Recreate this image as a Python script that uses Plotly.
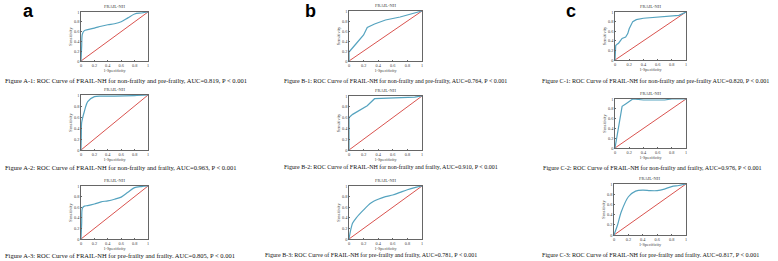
import plotly.graph_objects as go

W, H = 778, 261

# ---- data ----
a1_x = [0, 0.01, 0.02, 0.05, 0.1, 0.2, 0.3, 0.4, 0.5, 0.6, 0.7, 0.8, 0.9, 1]
a1_y = [0, 0.3, 0.55, 0.62, 0.64, 0.67, 0.71, 0.74, 0.76, 0.8, 0.88, 0.96, 0.98, 1]
a2_x = [0, 0.005, 0.01, 0.05, 0.1, 0.2, 0.3, 0.5, 0.8, 1]
a2_y = [0, 0.3, 0.5, 0.7, 0.88, 0.97, 0.98, 0.98, 0.99, 1]
a3_x = [0, 0.01, 0.02, 0.05, 0.1, 0.2, 0.3, 0.4, 0.5, 0.6, 0.7, 0.8, 0.9, 1]
a3_y = [0, 0.3, 0.58, 0.62, 0.63, 0.66, 0.7, 0.72, 0.75, 0.79, 0.88, 0.97, 0.99, 1]
b1_x = [0, 0, 0.1, 0.2, 0.25, 0.35, 0.5, 0.7, 1]
b1_y = [0, 0.18, 0.35, 0.52, 0.67, 0.74, 0.82, 0.88, 1]
b2_x = [0, 0, 0.05, 0.25, 0.35, 0.6, 0.9, 1]
b2_y = [0, 0.6, 0.66, 0.82, 0.95, 0.96, 0.98, 1]
b3_x = [0, 0.02, 0.05, 0.1, 0.2, 0.3, 0.4, 0.5, 0.6, 0.7, 0.8, 0.9, 1]
b3_y = [0, 0.15, 0.3, 0.4, 0.55, 0.68, 0.75, 0.8, 0.83, 0.88, 0.93, 0.97, 1]
c1_x = [0, 0.01, 0.03, 0.05, 0.1, 0.15, 0.18, 0.2, 0.25, 0.3, 0.4, 0.6, 0.8, 0.9, 1]
c1_y = [0, 0.3, 0.33, 0.35, 0.45, 0.48, 0.55, 0.65, 0.8, 0.84, 0.87, 0.89, 0.92, 0.93, 1]
c2_x = [0, 0.1, 0.15, 0.25, 0.4, 0.5, 0.7, 0.8, 1]
c2_y = [0, 0.85, 0.9, 1.0, 0.98, 0.98, 0.98, 1.0, 1]
c3_x = [0, 0.05, 0.1, 0.2, 0.3, 0.4, 0.5, 0.6, 0.7, 0.8, 0.9, 1]
c3_y = [0, 0.2, 0.45, 0.75, 0.86, 0.88, 0.87, 0.87, 0.9, 0.95, 0.97, 1]

diag = [0, 1]
ticks = [0, 0.2, 0.4, 0.6, 0.8, 1]
tick_labels = ["0", "0.2", "0.4", "0.6", "0.8", "1"]

captions = [
    "Figure A-1: ROC Curve of FRAIL-NH for non-frailty and pre-frailty, AUC=0.819, P < 0.001",
    "Figure B-1: ROC Curve of FRAIL-NH for non-frailty and pre-frailty, AUC=0.764, P < 0.001",
    "Figure C-1: ROC Curve of FRAIL-NH for non-frailty and pre-frailty AUC=0.820, P < 0.001",
    "Figure A-2: ROC Curve of FRAIL-NH for non-frailty and frailty, AUC=0.963, P < 0.001",
    "Figure B-2: ROC Curve of FRAIL-NH for non-frailty and frailty, AUC=0.910, P < 0.001",
    "Figure C-2: ROC Curve of FRAIL-NH for non-frailty and frailty, AUC=0.976, P < 0.001",
    "Figure A-3: ROC Curve of FRAIL-NH for pre-frailty and frailty. AUC=0.805, P < 0.001",
    "Figure B-3: ROC Curve of FRAIL-NH for pre-frailty and frailty, AUC=0.781, P < 0.001",
    "Figure C-3: ROC Curve of FRAIL-NH for pre-frailty and frailty. AUC=0.817, P < 0.001",
]
panel_labels = ["a", "b", "c"]
plot_title = "FRAIL-NH"

curves = [
    (a1_x, a1_y, "spline"), (b1_x, b1_y, "linear"), (c1_x, c1_y, "linear"),
    (a2_x, a2_y, "spline"), (b2_x, b2_y, "linear"), (c2_x, c2_y, "linear"),
    (a3_x, a3_y, "spline"), (b3_x, b3_y, "spline"), (c3_x, c3_y, "spline"),
]

# ---- layout geometry (pixels) ----
boxes = [
    (81, 148, 12, 61), (349, 422, 11, 61), (615, 686, 12, 60),
    (81, 148, 95, 150), (349, 422, 96, 150), (615, 686, 99, 148),
    (81, 148, 186, 239), (349, 422, 186, 239), (614, 686, 184, 235),
]
cap_pos = [
    (3, 81), (282, 81), (540, 81),
    (3, 167), (282, 167), (541, 168),
    (3, 255), (263, 255), (540, 255),
]
cap_size = [6.5, 6.0, 6.15, 6.5, 6.0, 6.15, 6.5, 6.0, 6.15]
label_pos = [28, 310, 571]

BLUE = "#55a3bf"
RED = "#d9534f"
fig = go.Figure()
layout = {}
annotations = []
for i, ((cx, cy, shape), (x0, x1, y0, y1)) in enumerate(zip(curves, boxes)):
    n = "" if i == 0 else str(i + 1)
    xa, ya = "x" + n, "y" + n
    fig.add_trace(go.Scatter(x=diag, y=diag, mode="lines", line=dict(color=RED, width=1),
                             xaxis=xa, yaxis=ya, showlegend=False, hoverinfo="skip"))
    fig.add_trace(go.Scatter(x=cx, y=cy, mode="lines",
                             line=dict(color=BLUE, width=1.2, shape=shape, smoothing=0.8),
                             xaxis=xa, yaxis=ya, showlegend=False))
    common = dict(range=[0, 1], tickvals=ticks, ticktext=tick_labels, showgrid=False,
                  zeroline=False, showline=True, linecolor="#666", linewidth=0.6, mirror=True,
                  ticks="inside", ticklen=1.5, tickcolor="#666", tickwidth=0.5,
                  tickfont=dict(size=4.3, color="#444", family="Liberation Serif"),
                  fixedrange=True, automargin=False)
    layout["xaxis" + n] = dict(common, domain=[x0 / W, x1 / W], anchor=ya,
                               title=dict(text="1-Specificity", standoff=1,
                                          font=dict(size=4.3, color="#444", family="Liberation Serif")))
    layout["yaxis" + n] = dict(common, domain=[1 - y1 / H, 1 - y0 / H], anchor=xa,
                               title=dict(text="Sensitivity", standoff=1,
                                          font=dict(size=4.3, color="#444", family="Liberation Serif")))
    annotations.append(dict(text=plot_title, x=(x0 + x1) / 2 / W, y=1 - (y0 - 1) / H,
                            xref="paper", yref="paper", xanchor="center", yanchor="bottom",
                            showarrow=False, font=dict(size=4.5, color="#444", family="Liberation Serif")))
    px, py = cap_pos[i]
    annotations.append(dict(text=captions[i], x=px / W, y=1 - py / H, xref="paper", yref="paper",
                            xanchor="left", yanchor="middle", showarrow=False,
                            font=dict(size=cap_size[i], color="#111", family="Liberation Serif")))
for lab, px in zip(panel_labels, label_pos):
    annotations.append(dict(text="<b>" + lab + "</b>", x=px / W, y=1, xref="paper", yref="paper",
                            xanchor="center", yanchor="top", showarrow=False, borderpad=0,
                            font=dict(size=18, color="#000", family="Liberation Sans")))

fig.update_layout(width=W, height=H, margin=dict(l=0, r=0, t=0, b=0),
                  paper_bgcolor="white", plot_bgcolor="white", annotations=annotations, **layout)
fig.write_html("out.html", config={"displayModeBar": False},
               post_script="document.body.style.margin='0px';document.body.style.padding='0px';")
